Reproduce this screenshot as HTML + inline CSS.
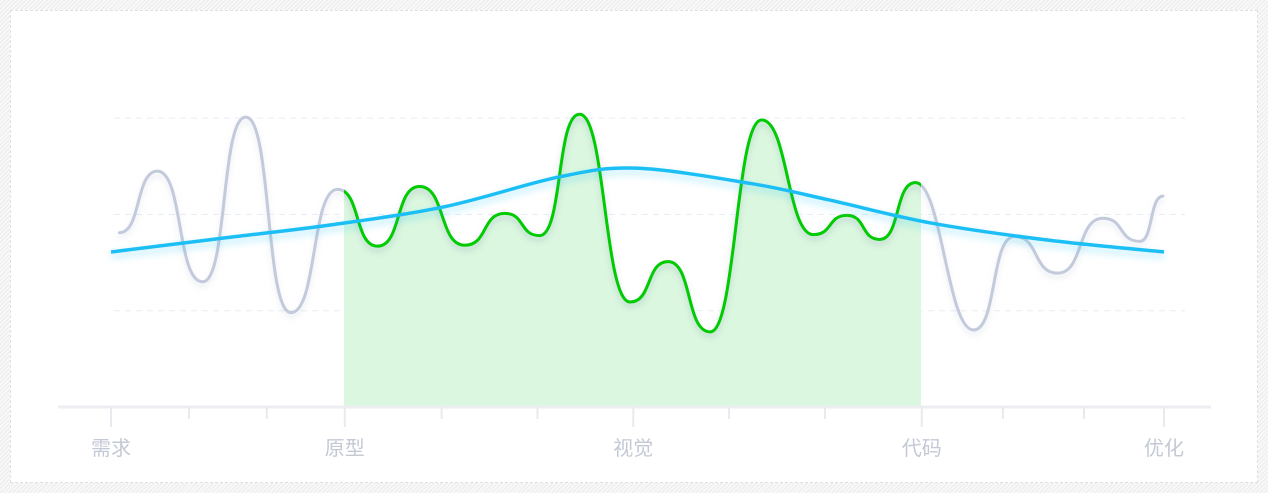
<!DOCTYPE html>
<html><head><meta charset="utf-8"><style>
html,body{margin:0;padding:0}
body{width:1268px;height:493px;overflow:hidden;background:repeating-linear-gradient(135deg,#ececec 0,#ececec 1px,#f8f8f8 1px,#f8f8f8 3px);position:relative;font-family:"Liberation Sans","Noto Sans CJK SC",sans-serif}
#card{position:absolute;left:10px;top:10px;width:1246px;height:471px;background:#fff;border:1px dashed #e0e0e0}
svg{position:absolute;left:0;top:0}
</style></head><body>
<div id="card"></div>
<svg id="chart" width="1268" height="493">
<defs>
<filter id="sh" x="-10%" y="-20%" width="120%" height="140%"><feDropShadow dx="0" dy="4" stdDeviation="3" flood-color="#8090b0" flood-opacity="0.18"/></filter>
<filter id="glow" x="-10%" y="-50%" width="120%" height="200%"><feDropShadow dx="0" dy="4" stdDeviation="4" flood-color="#1fbff5" flood-opacity="0.35"/></filter>
<clipPath id="hl"><rect x="344" y="0" width="577" height="493"/></clipPath>
</defs>
<g id="grid"></g><g id="fill"></g><g id="axis"></g><g id="lines"></g>
</svg>
<script>
const categories=["需求","原型","视觉","代码","优化"];
const categoryPos=[0,22.2,49.6,77.0,100];
const minorTicks=[7.4,14.8,31.4,40.5,58.7,67.8,84.7,92.4];
const gridValues=[1,2,3];
const waveT=[0.8,4.4,8.7,12.8,17.1,21.5,25.3,29.3,33.6,37.4,40.7,44.5,49.3,52.9,56.9,61.8,66.7,69.9,73.0,76.4,81.9,85.8,89.9,94.2,97.7,99.9];
const waveV=[1.81,2.45,1.30,3.01,0.98,2.26,1.67,2.29,1.68,2.01,1.78,3.04,1.09,1.51,0.78,2.98,1.79,1.99,1.74,2.33,0.80,1.77,1.39,1.96,1.72,2.19];
const trendT=[0,11.1,20.8,31.7,42.6,49.9,60.8,68.2,77.9,89.2,100];
const trendV=[1.61,1.76,1.89,2.08,2.39,2.48,2.32,2.15,1.91,1.73,1.61];
const highlight=[22.2,77.0];
const NS="http://www.w3.org/2000/svg";
const X=t=>111+t*10.53, Y=v=>407-v*96.3;
function mk(tag,attrs,parent){const e=document.createElementNS(NS,tag);for(const k in attrs)e.setAttribute(k,attrs[k]);parent.appendChild(e);return e;}
const G=id=>document.getElementById(id);
gridValues.forEach(v=>{const l=mk('line',{x1:114,x2:1185,y1:Y(v),y2:Y(v),stroke:'#e6edf3','stroke-width':1,'stroke-dasharray':'6 5'},G('grid'));

});
const ax=mk('line',{x1:58,x2:1211,y1:407,y2:407,stroke:'#eceef2','stroke-width':3},G('axis'));


categoryPos.forEach((t,i)=>{const tk=mk('line',{x1:X(t),x2:X(t),y1:407,y2:427,stroke:'#e8eaef','stroke-width':2},G('axis'));


const tx=mk('text',{x:X(t),y:455,'text-anchor':'middle','font-size':20,fill:'#c3c9d5'},G('axis'));tx.textContent=categories[i];

});
minorTicks.forEach(t=>{const tk=mk('line',{x1:X(t),x2:X(t),y1:407,y2:419,stroke:'#e8eaef','stroke-width':2},G('axis'));

});
function wavePath(ts,vs){let d=`M${X(ts[0])},${Y(vs[0])}`;for(let i=1;i<ts.length;i++){const x0=X(ts[i-1]),x1=X(ts[i]),k=Math.min(26,(x1-x0)*0.58);d+=` C${x0+k},${Y(vs[i-1])} ${x1-k},${Y(vs[i])} ${x1},${Y(vs[i])}`;}return d;}
function smoothPath(ts,vs){const p=ts.map((t,i)=>[X(t),Y(vs[i])]);let d=`M${p[0][0]},${p[0][1]}`;for(let i=0;i<p.length-1;i++){const p0=p[Math.max(0,i-1)],p1=p[i],p2=p[i+1],p3=p[Math.min(p.length-1,i+2)];d+=` C${p1[0]+(p2[0]-p0[0])/6},${p1[1]+(p2[1]-p0[1])/6} ${p2[0]-(p3[0]-p1[0])/6},${p2[1]-(p3[1]-p1[1])/6} ${p2[0]},${p2[1]}`;}return d;}
const wd=wavePath(waveT,waveV);
const area=mk('path',{d:wd+` L${X(waveT[waveT.length-1])},407 L${X(waveT[0])},407 Z`,fill:'#dbf7df','clip-path':'url(#hl)'},G('fill'));


const gray=mk('path',{d:wd,fill:'none',stroke:'#c2cadb','stroke-width':3,'stroke-linecap':'round',filter:'url(#sh)'},G('lines'));


const gr=mk('g',{'clip-path':'url(#hl)'},G('lines'));
const green=mk('path',{d:wd,fill:'none',stroke:'#00cc00','stroke-width':3,filter:'url(#sh)'},gr);


const blue=mk('path',{d:smoothPath(trendT,trendV),fill:'none',stroke:'#1fbff5','stroke-width':3.5,filter:'url(#glow)'},G('lines'));


</script>
</body></html>
